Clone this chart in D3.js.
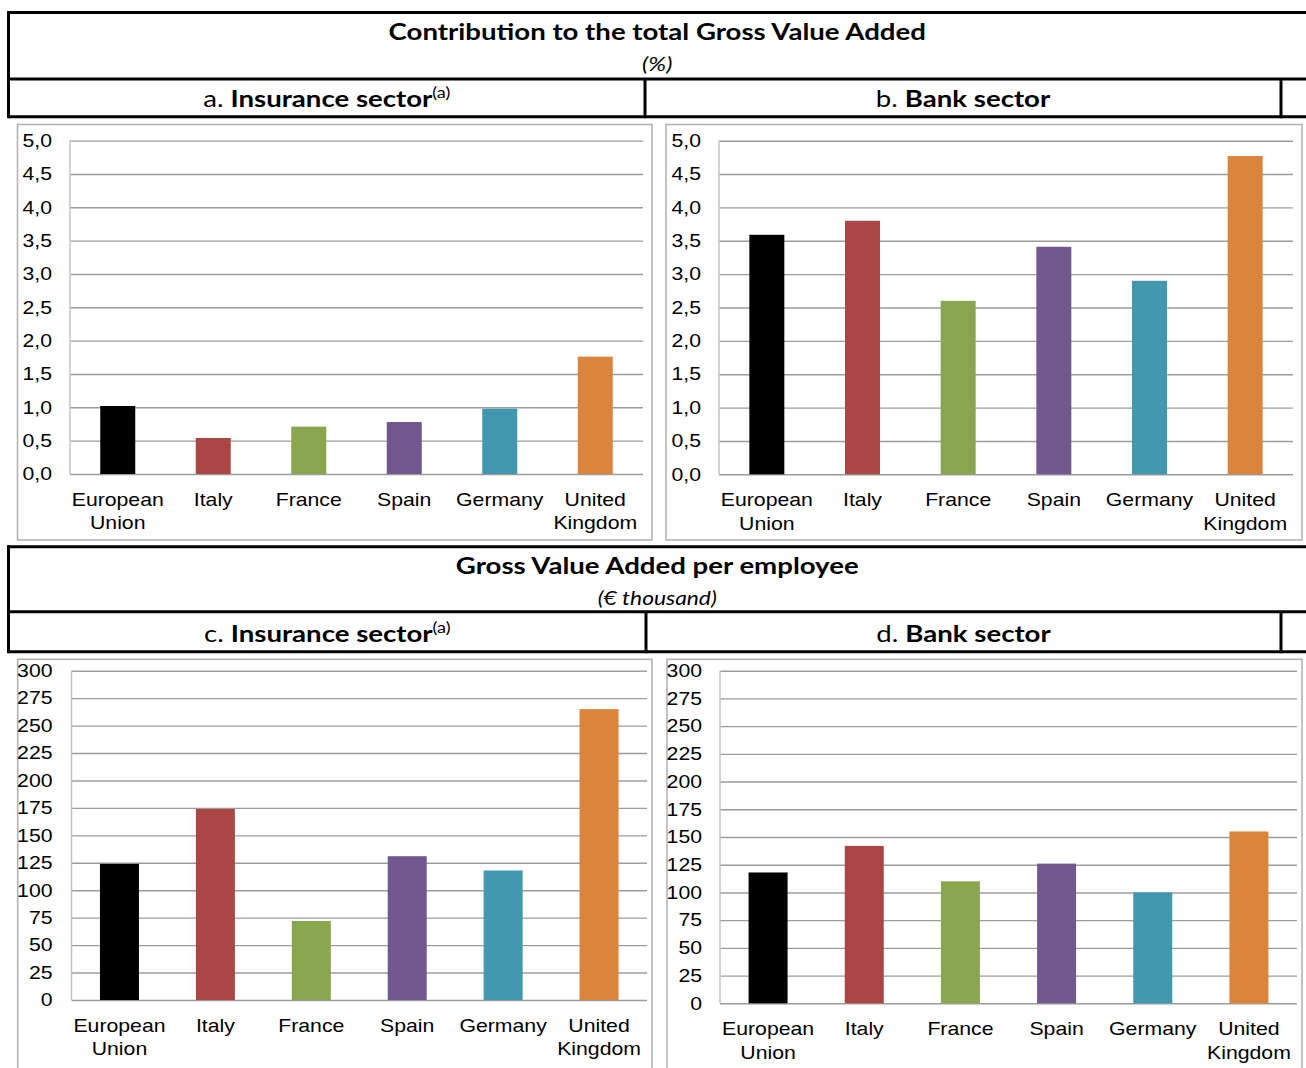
<!DOCTYPE html>
<html>
<head>
<meta charset="utf-8">
<script src="https://cdn.jsdelivr.net/npm/d3@7"></script>
<style>
  html, body { margin: 0; padding: 0; background: #ffffff; overflow: hidden; }
  svg { display: block; }
</style>
</head>
<body>
<svg id="fig" width="1306" height="1068"></svg>
<script>
// ---- data ----
const categories = ["European Union", "Italy", "France", "Spain", "Germany", "United Kingdom"];
const insuranceGvaShare = [1.02, 0.54, 0.71, 0.78, 0.98, 1.76];          // % of total GVA
const bankGvaShare = [3.59, 3.80, 2.60, 3.41, 2.90, 4.77];               // % of total GVA
const insuranceGvaPerEmployee = [124, 174, 72, 131, 118, 265];           // € thousand
const bankGvaPerEmployee = [118, 142, 110, 126, 100, 155];               // € thousand
const shareTicks = [0, 0.5, 1, 1.5, 2, 2.5, 3, 3.5, 4, 4.5, 5];
const perEmployeeTicks = [0, 25, 50, 75, 100, 125, 150, 175, 200, 225, 250, 275, 300];
const barColors = ["#000000", "#aa4643", "#89a54e", "#71588f", "#4198af", "#db843d"];

// ---- styling ----
const AXIS_FONT = "'Liberation Sans', Arial, sans-serif";
const HEAD_FONT = "Lato, 'Open Sans', sans-serif";
const AXIS_SX = 1.18;      // horizontal stretch of axis text
const HEAD_SX = 1.2;       // horizontal stretch of header text

const svg = d3.select("#fig");
const it = d3.formatLocale({ decimal: ",", thousands: ".", grouping: [3], currency: ["€", ""] });
const fmtShare = it.format(".1f");
const fmtInt = it.format("d");

// ---- section headers ----
function header(top, mid, bottom, title, subtitle, subSize, left, right) {
  const g = svg.append("g");
  const L = 8.5, SPLIT = left.split, RV = 1281, R = 1312;
  const line = (x1, y1, x2, y2) => g.append("line")
    .attr("x1", x1).attr("y1", y1).attr("x2", x2).attr("y2", y2)
    .attr("stroke", "#000").attr("stroke-width", 3);
  line(L, top, R, top);
  line(L, mid, R, mid);
  line(L, bottom, R, bottom);
  line(L, top - 1.5, L, bottom + 1.5);
  line(SPLIT, mid, SPLIT, bottom + 1.5);
  line(RV, mid, RV, bottom + 1.5);

  const cx = (L + R - 6) / 2;
  g.append("g").attr("transform", `translate(${cx},${top + 27.5}) scale(${HEAD_SX},1)`)
    .append("text").attr("text-anchor", "middle")
    .attr("font-family", HEAD_FONT).attr("font-weight", 700).attr("font-size", 23)
    .attr("fill", "#000").text(title);
  g.append("g").attr("transform", `translate(${cx},${top + 58.5}) scale(${HEAD_SX},1)`)
    .append("text").attr("text-anchor", "middle")
    .attr("font-family", HEAD_FONT).attr("font-style", "italic").attr("font-size", subSize)
    .attr("fill", "#000").text(subtitle);

  [[ (L + SPLIT) / 2, left ], [ (SPLIT + RV) / 2, right ]].forEach(([x, cell]) => {
    const t = g.append("g").attr("transform", `translate(${x},${bottom - 10}) scale(${HEAD_SX},1)`)
      .append("text").attr("text-anchor", "middle")
      .attr("font-family", HEAD_FONT).attr("font-size", 23).attr("fill", "#000");
    t.append("tspan").text(cell.letter + " ");
    t.append("tspan").attr("font-weight", 700).text(cell.name);
    if (cell.note) {
      t.append("tspan").attr("font-size", 15).attr("dy", -9).text(cell.note);
    }
  });
}

header(12.5, 79, 116.7, "Contribution to the total Gross Value Added", "(%)", 20,
  { letter: "a.", name: "Insurance sector", note: "(a)", split: 645 },
  { letter: "b.", name: "Bank sector" });
header(546.7, 611.7, 651.7, "Gross Value Added per employee", "(€ thousand)", 19,
  { letter: "c.", name: "Insurance sector", note: "(a)", split: 646 },
  { letter: "d.", name: "Bank sector" });

// ---- bar panels ----
function panel(p) {
  const g = svg.append("g");
  g.append("rect")
    .attr("x", p.box[0]).attr("y", p.box[1]).attr("width", p.box[2]).attr("height", p.box[3])
    .attr("fill", "#fff").attr("stroke", "#b4b4b4").attr("stroke-width", 1.6);

  const x = d3.scaleBand().domain(categories).range(p.xr)
    .paddingInner(p.pad).paddingOuter(p.pad / 2);
  const y = d3.scaleLinear().domain([0, d3.max(p.ticks)]).range(p.yr);

  const ax = g.append("g").attr("transform", `translate(${p.xr[0]},0)`)
    .call(d3.axisLeft(y).tickValues(p.ticks).tickFormat(p.fmt)
      .tickSize(-(p.xr[1] - p.xr[0])).tickPadding(0));
  ax.select(".domain").remove();
  ax.selectAll(".tick line").attr("stroke", "#9c9c9c").attr("stroke-width", 1.4);
  ax.selectAll(".tick text")
    .attr("x", -p.labelGap / AXIS_SX)
    .attr("transform", `scale(${AXIS_SX},1)`)
    .attr("font-family", AXIS_FONT).attr("font-size", 18).attr("fill", "#000");

  g.append("line")
    .attr("x1", p.xr[0]).attr("x2", p.xr[0])
    .attr("y1", y(d3.max(p.ticks))).attr("y2", y(0))
    .attr("stroke", "#c4c4c4").attr("stroke-width", 1.5);

  g.selectAll("rect.bar").data(p.values).join("rect").attr("class", "bar")
    .attr("x", (d, i) => x(categories[i]))
    .attr("width", x.bandwidth())
    .attr("y", d => y(d))
    .attr("height", d => y(0) - y(d))
    .attr("fill", (d, i) => barColors[i]);

  const lab = g.selectAll("g.cat").data(categories).join("g").attr("class", "cat")
    .attr("transform", d => `translate(${x(d) + x.bandwidth() / 2},${y(0) + 32}) scale(${AXIS_SX},1)`)
    .append("text").attr("text-anchor", "middle")
    .attr("font-family", AXIS_FONT).attr("font-size", 18).attr("fill", "#000");
  lab.selectAll("tspan").data(d => d.split(" ")).join("tspan")
    .attr("x", 0).attr("dy", (d, i) => i === 0 ? 0 : 23.3).text(d => d);
}

panel({ box: [17.5, 124.5, 634.5, 415.5], xr: [70, 643], yr: [474, 140.6], pad: 1 - 35 / 95.5,
  values: insuranceGvaShare, ticks: shareTicks, fmt: fmtShare, labelGap: 18 });
panel({ box: [666, 124.5, 636, 415.5], xr: [719, 1293], yr: [474.3, 140.7], pad: 1 - 35 / 95.7,
  values: bankGvaShare, ticks: shareTicks, fmt: fmtShare, labelGap: 18 });
panel({ box: [17.7, 659.3, 634.3, 420], xr: [71.5, 647], yr: [1000, 670.7], pad: 1 - 39 / 95.9,
  values: insuranceGvaPerEmployee, ticks: perEmployeeTicks, fmt: fmtInt, labelGap: 19 });
panel({ box: [667, 659.3, 635, 420], xr: [720, 1297], yr: [1003.3, 670.7], pad: 1 - 39 / 96.2,
  values: bankGvaPerEmployee, ticks: perEmployeeTicks, fmt: fmtInt, labelGap: 18 });
</script>
</body>
</html>
